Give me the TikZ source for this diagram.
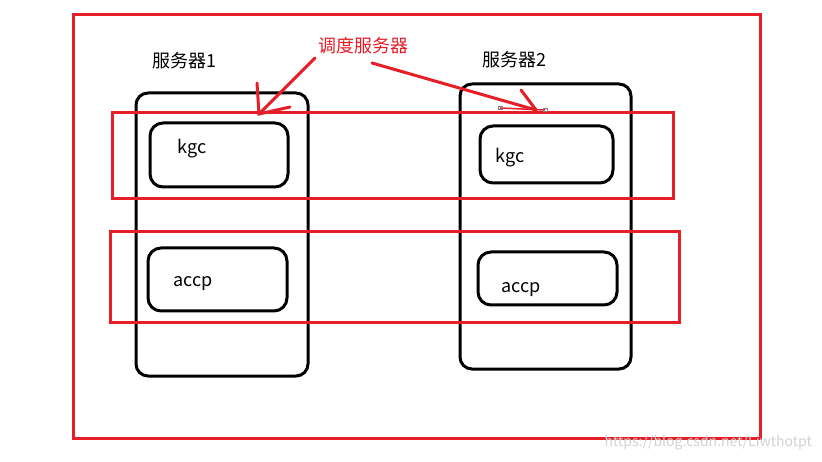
\documentclass[tikz,border=0pt]{standalone}
\usepackage{fontspec}
\setmainfont{Noto Sans CJK SC}
\definecolor{myred}{RGB}{230,30,40}
\definecolor{wm}{RGB}{210,210,210}
\tikzset{
  redbox/.style={draw=myred, line width=3pt},
  server/.style={draw=black, line width=3pt, rounded corners=12pt},
  inner/.style={draw=black, line width=3pt, rounded corners=13pt},
  lbl/.style={font=\fontsize{18}{20}\selectfont, inner sep=0pt},
  redline/.style={draw=myred, line width=3pt, line cap=round}
}
\begin{document}
\begin{tikzpicture}[x=1pt,y=-1pt]
\useasboundingbox (0,0) rectangle (822,462);
\fill[white] (0,0) rectangle (822,462);
% outer
\draw[redbox] (73,15) rectangle (760,438);
% servers
\draw[server] (136,93) rectangle (308,376);
\draw[server] (460,84) rectangle (631,369);
% inner boxes
\draw[inner] (150,123) rectangle (288,187);
\draw[inner] (148,248) rectangle (287,311);
\draw[inner] (480,126) rectangle (613,183);
\draw[inner] (478,252) rectangle (617,305);
% red bands
\draw[redbox] (112,113) rectangle (673,199);
\draw[redbox] (110,232) rectangle (679,323);
% texts
\node[lbl] (s1) at (184,61) {服务器1};
\node[lbl] (s2) at (514,60) {服务器2};
\node[lbl, text=myred] (d) at (363,46) {调度服务器};
\node[lbl] (k1) at (192,149) {kgc};
\node[lbl] (a1) at (193,284) {accp};
\node[lbl] (k2) at (510,158) {kgc};
\node[lbl] (a2) at (521,290) {accp};
% arrows
\coordinate (t1) at (259,114);
\coordinate (t2) at (536,110);
\draw[redline] (315,58) -- (t1);
\draw[redline] (257,83) -- (t1) -- (290,107);
\draw[redline] (372,63) -- (t2);
\draw[redline] (521,90) -- (t2);
\draw[draw=myred, line width=1.5pt] (500,108) -- (545,110);
\draw[gray, line width=0.4pt] (498,106.5) rectangle (502,109.5);
\draw[gray, line width=0.4pt] (543,108.5) rectangle (547,111.5);
% watermark
\node[font=\fontsize{14}{16}\selectfont, text=wm, anchor=east, inner sep=0pt] (w) at (812,443) {https://blog.csdn.net/Liwthotpt};
\end{tikzpicture}
\end{document}
